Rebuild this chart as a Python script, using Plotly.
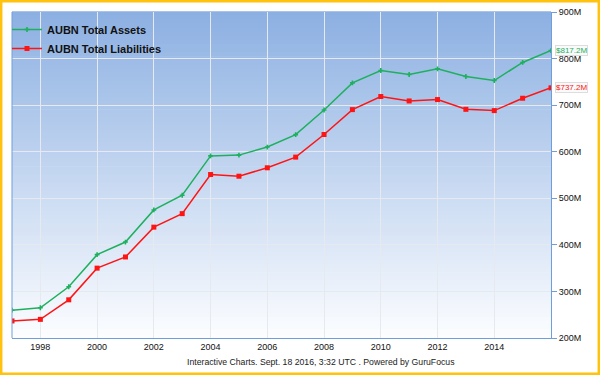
import plotly.graph_objects as go

# ---- data (values in $ millions) ----
years = list(range(1997, 2017))
total_assets = [259.7, 265.0, 310.0, 379.0, 406.0, 475.0, 506.5, 591.0, 592.7, 610.0,
                636.6, 689.6, 747.8, 774.4, 765.8, 777.9, 761.5, 752.9, 791.7, 817.2]
total_liabilities = [236.6, 240.0, 282.0, 350.0, 374.0, 438.0, 467.0, 551.0, 547.4, 565.5,
                     588.4, 637.0, 690.4, 718.5, 709.0, 712.0, 691.0, 688.3, 714.8, 737.2]
x_tick_years = [1998, 2000, 2002, 2004, 2006, 2008, 2010, 2012, 2014]
y_tick_values = [200, 300, 400, 500, 600, 700, 800, 900]
y_tick_labels = ["200M", "300M", "400M", "500M", "600M", "700M", "800M", "900M"]
series_names = ["AUBN Total Assets", "AUBN Total Liabilities"]
footer_text = "Interactive Charts. Sept. 18 2016, 3:32 UTC . Powered by GuruFocus"

GREEN = "#1DB05E"
RED = "#FF1414"
AXIS_BLUE = "#6F9FDB"
FONT = "Liberation Sans, Arial, sans-serif"

fig = go.Figure()
fig.add_trace(go.Scatter(
    x=years, y=total_assets, name=series_names[0], mode="lines+markers",
    line=dict(color=GREEN, width=1.5), marker=dict(symbol="cross", size=4, color=GREEN)))
fig.add_trace(go.Scatter(
    x=years, y=total_liabilities, name=series_names[1], mode="lines+markers",
    line=dict(color=RED, width=1.5), marker=dict(symbol="square", size=5, color=RED)))

W, H = 600, 375
ml, mr, mt, mb = 12, 49, 12, 37
pw, ph = W - ml - mr, H - mt - mb
def px_to_paper_x(px):
    return (px - ml) / pw
def py_to_paper_y(py):
    return (H - mb - py) / ph

# gradient background of the plot area (decorative strips)
shapes = []
n = 80
top = (140, 176, 226)
bot = (252, 253, 255)
for i in range(n):
    f = (i + 0.5) / n
    c = tuple(round(top[k] + (bot[k] - top[k]) * f) for k in range(3))
    shapes.append(dict(type="rect", xref="paper", yref="paper",
                       x0=0, x1=1, y0=1 - (i + 1) / n, y1=1 - i / n + 0.002,
                       fillcolor="rgb(%d,%d,%d)" % c, line=dict(width=0), layer="below"))
# left border line of plot area
shapes.append(dict(type="line", xref="paper", yref="paper", x0=0, x1=0, y0=0, y1=1,
                   line=dict(color=AXIS_BLUE, width=1)))
# outer orange frame
shapes.append(dict(type="rect", xref="paper", yref="paper",
                   x0=px_to_paper_x(1.2), x1=px_to_paper_x(598.8),
                   y0=py_to_paper_y(373.8), y1=py_to_paper_y(1.2),
                   line=dict(color="#FFC20E", width=2.5), fillcolor="rgba(0,0,0,0)"))

annotations = [
    dict(x=years[-1], y=total_assets[-1], xref="x", yref="y",
         text="$%.1fM" % total_assets[-1], showarrow=False, xanchor="left", yanchor="middle",
         xshift=4, font=dict(family=FONT, size=8, color=GREEN),
         bgcolor="#FAFAFA", bordercolor="#DDDDDD", borderwidth=1, borderpad=0),
    dict(x=years[-1], y=total_liabilities[-1], xref="x", yref="y",
         text="$%.1fM" % total_liabilities[-1], showarrow=False, xanchor="left", yanchor="middle",
         xshift=4, font=dict(family=FONT, size=8, color=RED),
         bgcolor="#FAFAFA", bordercolor="#DDDDDD", borderwidth=1, borderpad=0),
    dict(x=px_to_paper_x(321), y=py_to_paper_y(362), xref="paper", yref="paper",
         text=footer_text, showarrow=False, xanchor="center", yanchor="middle",
         font=dict(family=FONT, size=8.7, color="#222222")),
]

fig.update_layout(
    width=W, height=H, autosize=False,
    margin=dict(l=ml, r=mr, t=mt, b=mb, autoexpand=False),
    paper_bgcolor="white", plot_bgcolor="rgba(0,0,0,0)",
    font=dict(family=FONT, size=9, color="#222222"),
    showlegend=True,
    legend=dict(x=px_to_paper_x(7), y=py_to_paper_y(15), xanchor="left", yanchor="top",
                bgcolor="rgba(0,0,0,0)",
                font=dict(family=FONT, size=11, color="#111111", weight="bold"),
                itemwidth=30),
    xaxis=dict(range=[1997, 2016], tickvals=x_tick_years, ticktext=[str(v) for v in x_tick_years],
               showgrid=True, gridcolor="#E6E9EE", gridwidth=1, zeroline=False,
               showline=True, linecolor=AXIS_BLUE, linewidth=1, ticks="", automargin=False,
               tickfont=dict(family=FONT, size=9, color="#111111")),
    yaxis=dict(range=[200, 900], tickvals=y_tick_values, ticktext=y_tick_labels, side="right",
               showgrid=True, gridcolor="#E6E9EE", gridwidth=1, zeroline=False,
               showline=True, linecolor=AXIS_BLUE, linewidth=1, automargin=False,
               ticks="outside", ticklen=5, tickcolor=AXIS_BLUE,
               tickfont=dict(family=FONT, size=9, color="#111111")),
    shapes=shapes, annotations=annotations,
)

fig.write_html("out.html", config={"displayModeBar": False},
               post_script="document.body.style.margin='0';document.body.style.padding='0';")
